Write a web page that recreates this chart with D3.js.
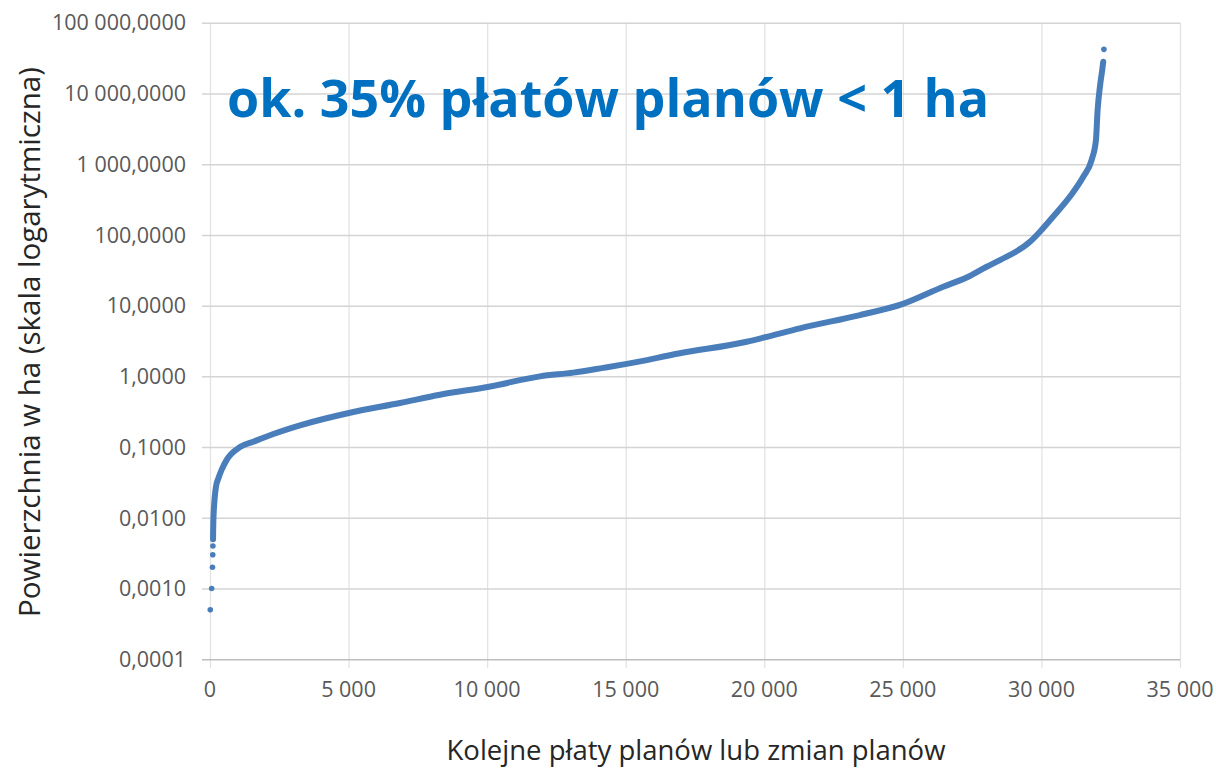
<!DOCTYPE html>
<html>
<head>
<meta charset="utf-8">
<script src="https://cdn.jsdelivr.net/npm/d3@7"></script>
<style>
  body { margin: 0; background: #fff; }
  text { font-family: "Open Sans", Lato, sans-serif; }
</style>
</head>
<body>
<div id="chart"></div>
<script>
var svgWidth = 1216;
var svgHeight = 770;

// sorted plan patches: rank (x) and area in ha (y)
var curveX = [110, 125, 216, 300, 422, 602, 1082, 1562, 2284, 3247, 5051, 6855, 8298, 10066,
  11906, 13109, 14191, 15034, 16958, 19364, 20024, 21287, 23452, 24978, 26458, 27302, 28024,
  28503, 29586, 29947, 30427, 31029, 31509, 31812, 31967, 32028, 32111, 32194, 32230];
var curveY = [0.005, 0.01, 0.0276, 0.036, 0.048, 0.066, 0.1, 0.119, 0.153, 0.203, 0.306, 0.42, 0.55, 0.714,
  1.0, 1.13, 1.32, 1.50, 2.12, 3.09, 3.57, 4.78, 7.36, 10.5, 18.5, 25, 35.5,
  44, 80, 111, 182, 348, 663, 1150, 2190, 5900, 12500, 21600, 28000];

// isolated points at both ends of the series
var dotX = [10, 60, 90, 100, 105, 32255];
var dotY = [0.0005, 0.001, 0.002, 0.003, 0.004, 42000];

var yTicks = [0.0001, 0.001, 0.01, 0.1, 1, 10, 100, 1000, 10000, 100000];
var yTickLabels = ["0,0001", "0,0010", "0,0100", "0,1000", "1,0000", "10,0000", "100,0000",
  "1 000,0000", "10 000,0000", "100 000,0000"];
var xTicks = [0, 5000, 10000, 15000, 20000, 25000, 30000, 35000];
var xTickLabels = ["0", "5 000", "10 000", "15 000", "20 000", "25 000", "30 000", "35 000"];

var svg = d3.select("#chart")
  .append("svg")
  .attr("width", svgWidth)
  .attr("height", svgHeight);

svg.append("rect").attr("width", svgWidth).attr("height", svgHeight).attr("fill", "#fff");

var xScale = d3.scaleLinear().domain([0, 35000]).range([210, 1180]);
var yScale = d3.scaleLog().domain([0.0001, 100000]).range([659.3, 22.7]);

// vertical grid (runs a bit below the axis as tick marks)
svg.append("g")
  .attr("transform", "translate(0, 668)")
  .call(d3.axisBottom(xScale).tickValues(xTicks).tickSize(-(668 - 22.7)).tickFormat(""))
  .call(g => g.select(".domain").remove())
  .call(g => g.selectAll("line").attr("stroke", "#e3e3e3").attr("stroke-width", 1.3));

// horizontal grid
svg.append("g")
  .attr("transform", "translate(1180, 0)")
  .call(d3.axisLeft(yScale).tickValues(yTicks).tickSize(1180 - 202).tickFormat(""))
  .call(g => g.select(".domain").remove())
  .call(g => g.selectAll("line")
    .attr("stroke", (d, i) => i === 0 ? "#bdbdbd" : "#d4d4d4")
    .attr("stroke-width", 1.5));

// tick labels
svg.append("g")
  .selectAll("text")
  .data(yTicks)
  .enter()
  .append("text")
  .attr("x", 186)
  .attr("y", d => yScale(d))
  .attr("dy", "0.36em")
  .attr("text-anchor", "end")
  .style("font-size", "21.5px")
  .style("fill", "#595959")
  .text((d, i) => yTickLabels[i]);

svg.append("g")
  .selectAll("text")
  .data(xTicks)
  .enter()
  .append("text")
  .attr("x", d => xScale(d))
  .attr("y", 697)
  .attr("text-anchor", "middle")
  .style("font-size", "21.5px")
  .style("fill", "#595959")
  .text((d, i) => xTickLabels[i]);

// the series
var curveData = curveX.map((x, i) => ({ x: x, y: curveY[i] }));
var line = d3.line()
  .x(d => xScale(d.x))
  .y(d => yScale(d.y))
  .curve(d3.curveMonotoneX);

svg.append("path")
  .datum(curveData)
  .attr("d", line)
  .attr("fill", "none")
  .attr("stroke", "#4a7ebb")
  .attr("stroke-width", 6)
  .attr("stroke-linecap", "round")
  .attr("stroke-linejoin", "round");

svg.append("g")
  .selectAll("circle")
  .data(dotX.map((x, i) => ({ x: x, y: dotY[i] })))
  .enter()
  .append("circle")
  .attr("cx", d => xScale(d.x))
  .attr("cy", d => yScale(d.y))
  .attr("r", 2.8)
  .attr("fill", "#4a7ebb");

// axis titles
svg.append("text")
  .attr("transform", "translate(40, 342) rotate(-90)")
  .attr("text-anchor", "middle")
  .style("font-size", "29.5px")
  .style("fill", "#262626")
  .text("Powierzchnia w ha (skala logarytmiczna)");

svg.append("text")
  .attr("x", 696)
  .attr("y", 760)
  .attr("text-anchor", "middle")
  .style("font-size", "27.5px")
  .style("fill", "#262626")
  .text("Kolejne płaty planów lub zmian planów");

// annotation
svg.append("text")
  .attr("x", 227)
  .attr("y", 117)
  .style("font-size", "52px")
  .style("font-weight", "bold")
  .style("fill", "#0070c0")
  .text("ok. 35% płatów planów < 1 ha");
</script>
</body>
</html>
